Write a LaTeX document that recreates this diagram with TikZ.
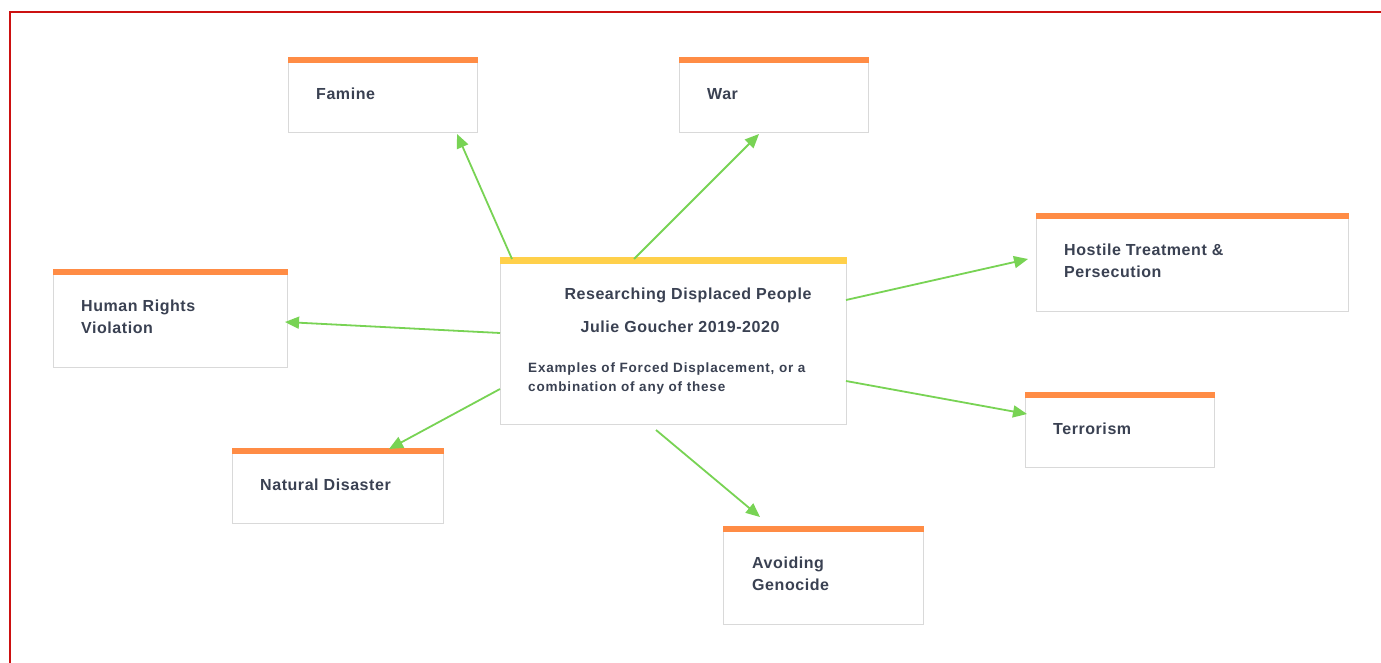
\documentclass[tikz,border=0pt]{standalone}
\usepackage{fontspec}
\setmainfont{Liberation Sans}
\newfontfamily\lblfont[LetterSpace=3.5]{Liberation Sans}
\newfontfamily\smallfont[LetterSpace=6]{Liberation Sans}
\usetikzlibrary{arrows.meta,calc}
\definecolor{frameRed}{HTML}{CC1111}
\definecolor{barOrange}{HTML}{FF8C45}
\definecolor{barYellow}{HTML}{FFD04A}
\definecolor{linkGreen}{HTML}{78D354}
\definecolor{boxGray}{HTML}{D9D9D9}
\definecolor{txtDark}{HTML}{3A4152}
\tikzset{
  every picture/.style={x=1pt,y=-1pt},
  card/.style={draw=boxGray, line width=1.2pt, fill=white, anchor=north west, inner sep=0pt},
  lbl/.style={anchor=west, align=left, inner sep=0pt, text=txtDark, font=\lblfont\fontsize{16}{22}\selectfont\bfseries},
  small/.style={anchor=west, align=left, inner sep=0pt, text=txtDark, font=\smallfont\fontsize{13.5}{19.5}\selectfont\bfseries},
  link/.style={draw=linkGreen, line width=1.8pt, -{Triangle[length=14pt,width=12pt]}}
}
\begin{document}
\begin{tikzpicture}
\useasboundingbox (0,0) rectangle (1381,663);
\fill[white] (0,0) rectangle (1381,663);
% frame
\draw[frameRed, line width=2pt] (9.5,663) -- (9.5,12.5) -- (1381,12.5);

% cards
\node[card, minimum width=189, minimum height=75] (famine) at (288,57) {};
\node[card, minimum width=189, minimum height=75] (war) at (679,57) {};
\node[card, minimum width=312, minimum height=98] (hostile) at (1036,213) {};
\node[card, minimum width=234, minimum height=98] (human) at (53,269) {};
\node[card, minimum width=346, minimum height=167] (center) at (500,257) {};
\node[card, minimum width=189, minimum height=75] (terror) at (1025,392) {};
\node[card, minimum width=211, minimum height=75] (natural) at (232,448) {};
\node[card, minimum width=200, minimum height=98] (genocide) at (723,526) {};

% bars
\foreach \n in {famine,war,hostile,human,terror,natural,genocide}{
  \fill[barOrange] (\n.north west) rectangle ($(\n.north east)+(0,6)$);
}
\fill[barYellow] (center.north west) rectangle ($(center.north east)+(0,6.5)$);

% labels
\node[lbl] (tfamine) at ($(famine.north west)+(28,37)$) {Famine};
\node[lbl] (twar) at ($(war.north west)+(28,37)$) {War};
\node[lbl] (thostile) at ($(hostile.north west)+(28,48)$) {Hostile Treatment \&\\Persecution};
\node[lbl] (thuman) at ($(human.north west)+(28,48)$) {Human Rights\\Violation};
\node[lbl] (tterror) at ($(terror.north west)+(28,37)$) {Terrorism};
\node[lbl] (tnatural) at ($(natural.north west)+(28,37)$) {Natural Disaster};
\node[lbl] (tgenocide) at ($(genocide.north west)+(29,48)$) {Avoiding\\Genocide};

\node[lbl, anchor=center] (t1) at (688,295) {Researching Displaced People};
\node[lbl, anchor=center] (t2) at (680,327) {Julie Goucher 2019-2020};
\node[small] (t3) at (528,378.5) {Examples of Forced Displacement, or a\\combination of any of these};

% connectors
\coordinate (s1) at (512,259); \coordinate (e1) at (457,134);
\coordinate (s2) at (634,259); \coordinate (e2) at (759,134);
\coordinate (s3) at (846,300); \coordinate (e3) at (1028,259);
\coordinate (s4) at (500,333); \coordinate (e4) at (285,322);
\coordinate (s5) at (846,381); \coordinate (e5) at (1027,414);
\coordinate (s6) at (500,389); \coordinate (e6) at (389,449);
\coordinate (s7) at (656,430); \coordinate (e7) at (760,517);
\draw[link] (s1) -- (e1);
\draw[link] (s2) -- (e2);
\draw[link] (s3) -- (e3);
\draw[link] (s4) -- (e4);
\draw[link] (s5) -- (e5);
\draw[link] (s6) -- (e6);
\draw[link] (s7) -- (e7);
\end{tikzpicture}
\end{document}
